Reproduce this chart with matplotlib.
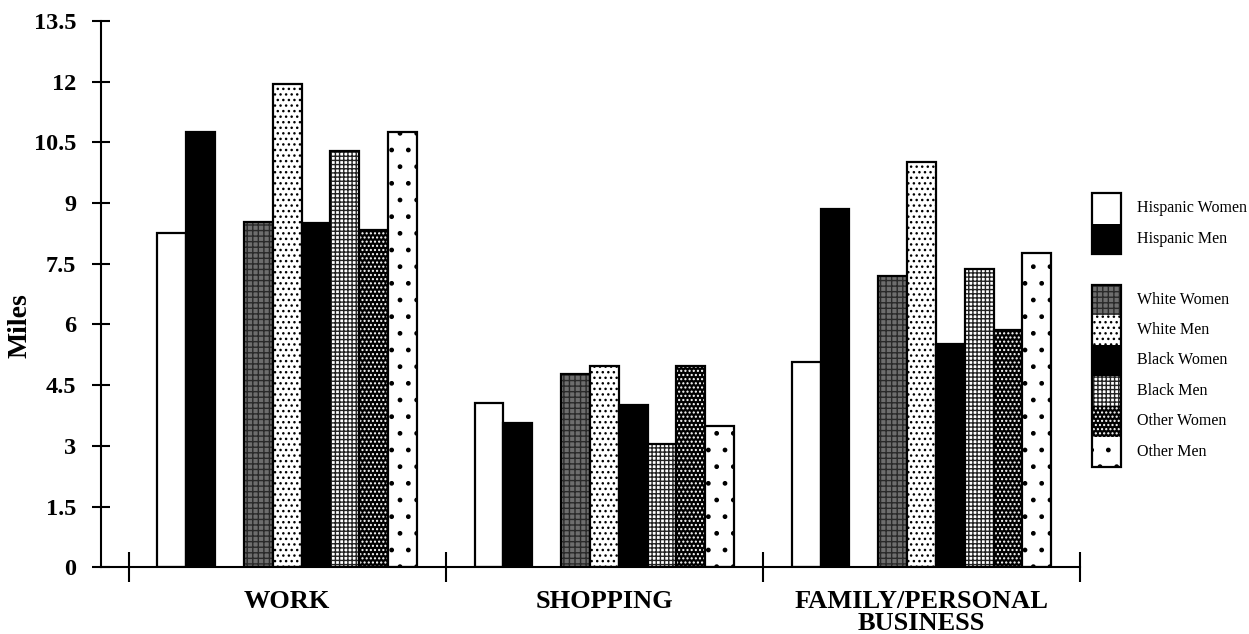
import matplotlib
matplotlib.use("Agg")
import matplotlib.pyplot as plt
from matplotlib.patches import Rectangle

# Average trip length (miles) by purpose, ethnicity and sex
categories = ["WORK", "SHOPPING", "FAMILY/PERSONAL\nBUSINESS"]
series = ["Hispanic Women", "Hispanic Men",
          "White Women", "White Men",
          "Black Women", "Black Men",
          "Other Women", "Other Men"]
hispanic_women = [8.25, 4.07, 5.08]
hispanic_men = [10.76, 3.56, 8.85]
white_women = [8.54, 4.78, 7.20]
white_men = [11.94, 4.97, 10.02]
black_women = [8.50, 4.00, 5.53]
black_men = [10.29, 3.05, 7.37]
other_women = [8.33, 4.98, 5.87]
other_men = [10.76, 3.49, 7.76]
values = [hispanic_women, hispanic_men, white_women, white_men,
          black_women, black_men, other_women, other_men]
y_ticks = [0, 1.5, 3, 4.5, 6, 7.5, 9, 10.5, 12, 13.5]
y_tick_labels = ["0", "1.5", "3", "4.5", "6", "7.5", "9", "10.5", "12", "13.5"]

# fill colour, hatch, hatch colour for each series
styles = [
    ("white", None, "black"),
    ("black", None, "black"),
    ("#6e6e6e", "+++", "#2a2a2a"),
    ("white", "...", "black"),
    ("black", None, "black"),
    ("white", "++++", "#222222"),
    ("black", "....", "white"),
    ("white", ".", "black"),
]
# slot index of each series within a group (slot 2 is left empty)
slots = [0, 1, 3, 4, 5, 6, 7, 8]

plt.rcParams["hatch.linewidth"] = 1.0
serif = "Liberation Serif"

fig = plt.figure(figsize=(12.49, 6.34), dpi=100)
ax = fig.add_axes([0.0806, 0.1052, 0.8647 - 0.0806, 0.9669 - 0.1052])

slot_w = 0.0909
xs = list(range(len(categories)))


def draw_bar(axis, x, h, w, face, hatch, hcol, **kw):
    axis.bar(x, h, width=w, color=face, hatch=hatch, edgecolor=hcol,
             linewidth=0, **kw)
    axis.bar(x, h, width=w, fill=False, edgecolor="black", linewidth=1.6, **kw)


for vals, (face, hatch, hcol), s in zip(values, styles, slots):
    pos = [x + (s - 4) * slot_w for x in xs]
    for p, v in zip(pos, vals):
        draw_bar(ax, p, v, slot_w, face, hatch, hcol)

ax.set_xlim(-0.588, 2.5)
ax.set_ylim(0, 13.5)

for side in ("top", "right"):
    ax.spines[side].set_visible(False)
ax.spines["left"].set_linewidth(1.5)
ax.spines["bottom"].set_linewidth(1.5)

ax.set_yticks(y_ticks)
ax.set_yticklabels(y_tick_labels, fontfamily=serif, fontweight="bold", fontsize=17.5)
ax.tick_params(axis="y", direction="inout", length=13.5, width=1.5, pad=11)

# group separators as crossing ticks, group names as labels between them
ax.set_xticks([-0.5, 0.5, 1.5, 2.5])
ax.set_xticklabels([])
ax.tick_params(axis="x", which="major", direction="inout", length=21, width=1.5)
ax.set_xticks(xs, minor=True)
ax.set_xticklabels(categories, minor=True, fontfamily=serif, fontweight="bold",
                   fontsize=19, linespacing=0.95, va="top")
ax.tick_params(axis="x", which="minor", length=0, pad=16.5)
for ticklabel in ax.get_xticklabels(minor=True):
    ticklabel.set_multialignment("center")

ax.set_ylabel("Miles", fontfamily=serif, fontweight="bold", fontsize=20)
ax.yaxis.set_label_coords(-0.0691, 0.4417)

# legend: stacked swatches, Hispanic pair then the other six after a blank slot
W, H = 1249, 634
sw_left, sw_top, sw_w, sw_h = 1092, 193.3, 29, 30.4
leg_order = [0, 1, None, 2, 3, 4, 5, 6, 7]
lax = fig.add_axes([sw_left / W, 1 - (sw_top + 9 * sw_h) / H, sw_w / W, 9 * sw_h / H])
lax.set_xlim(0, 1)
lax.set_ylim(9, 0)
lax.axis("off")
for row, idx in enumerate(leg_order):
    if idx is None:
        continue
    face, hatch, hcol = styles[idx]
    lax.add_patch(Rectangle((0, row), 1, 1, facecolor=face, hatch=hatch,
                            edgecolor=hcol, linewidth=0))
    fig.text(1137 / W, 1 - (sw_top + (row + 0.5) * sw_h) / H, series[idx],
             fontfamily=serif, fontsize=11.5, va="center", ha="left")
# outlines around each swatch block
lax.add_patch(Rectangle((0, 0), 1, 2, fill=False, edgecolor="black", linewidth=1.6,
                        clip_on=False))
lax.add_patch(Rectangle((0, 3), 1, 6, fill=False, edgecolor="black", linewidth=1.6,
                        clip_on=False))

fig.savefig("out.png", dpi=100)
